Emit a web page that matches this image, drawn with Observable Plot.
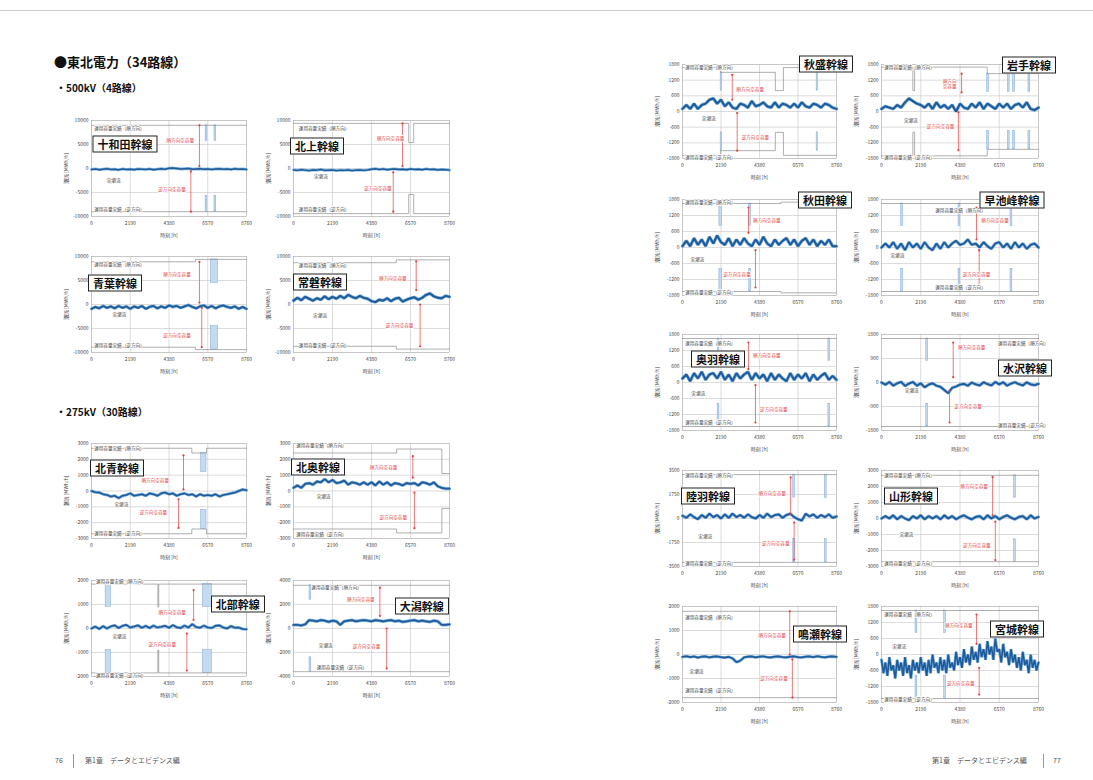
<!DOCTYPE html>
<html><head><meta charset="utf-8">
<script src="https://cdn.jsdelivr.net/npm/d3@7"></script>
<script src="https://cdn.jsdelivr.net/npm/@observablehq/plot@0.6"></script>
<style>
body{margin:0;background:#fff;font-family:"Noto Sans CJK JP","Noto Sans",sans-serif;}
#page{position:relative;width:1093px;height:780px;overflow:hidden;background:#fff;}
.abs{position:absolute;white-space:nowrap;line-height:1;}
.tbox{position:absolute;white-space:nowrap;border:1.2px solid #222;background:#fff;font-weight:700;font-size:11px;line-height:1;padding:2px 4px;color:#111;transform:translate(-50%,-50%);}
.chart{position:absolute;}
.chart svg{overflow:visible;}
</style></head>
<body><div id="page"></div>
<script>
// ---------- data ----------
const hours = [0,219,438,657,876,1095,1314,1533,1752,1971,2190,2409,2628,2847,3066,3285,3504,3723,3942,4161,4380,4599,4818,5037,5256,5475,5694,5913,6132,6351,6570,6789,7008,7227,7446,7665,7884,8103,8322,8541,8760];
const hoursFine = [0,110,219,329,438,548,657,767,876,986,1095,1205,1314,1424,1533,1643,1752,1862,1971,2081,2190,2300,2409,2519,2628,2738,2847,2957,3066,3176,3285,3395,3504,3614,3723,3833,3942,4052,4161,4271,4380,4490,4599,4709,4818,4928,5037,5147,5256,5366,5475,5585,5694,5804,5913,6023,6132,6242,6351,6461,6570,6680,6789,6899,7008,7118,7227,7337,7446,7556,7665,7775,7884,7994,8103,8213,8322,8432,8541,8651,8760];
const xTicks = [0,2190,4380,6570,8760];
const lineNames = ["十和田幹線","北上幹線","青葉幹線","常磐幹線","北青幹線","北奥幹線","北部幹線","大潟幹線","秋盛幹線","岩手幹線","秋田幹線","早池峰幹線","奥羽幹線","水沢幹線","陸羽幹線","山形幹線","鳴瀬幹線","宮城幹線"];
const yTicks = [
  [10000,5000,0,-5000,-10000],[10000,5000,0,-5000,-10000],[10000,5000,0,-5000,-10000],[10000,5000,0,-5000,-10000],
  [3000,2000,1000,0,-1000,-2000,-3000],[3000,2000,1000,0,-1000,-2000,-3000],
  [2000,1000,0,-1000,-2000],[4000,2000,0,-2000,-4000],
  [1800,1200,600,0,-600,-1200,-1800],[1800,1200,600,0,-600,-1200,-1800],
  [1800,1200,600,0,-600,-1200,-1800],[1800,1200,600,0,-600,-1200,-1800],
  [1800,1200,600,0,-600,-1200,-1800],[1800,900,0,-900,-1800],
  [3500,1750,0,-1750,-3500],[3000,2000,1000,0,-1000,-2000,-3000],
  [2000,1000,0,-1000,-2000],[1800,1200,600,0,-600,-1200,-1800]
];
const flowTowada = [-200,-100,-250,-150,-50,-200,-150,-300,-100,-200,-150,-250,-100,-150,-200,-100,-250,-150,-50,-150,50,100,0,-100,-50,0,-150,-100,-50,-150,-100,-200,-100,-50,-150,-100,-200,-50,-150,-100,-200];
const flowKitakami = [-300,-400,-250,-350,-450,-300,-350,-200,-400,-350,-300,-450,-350,-400,-300,-450,-350,-300,-400,-300,-150,-50,-200,-100,-250,-150,-100,-200,-150,-250,-100,-200,-150,-250,-100,-200,-150,-300,-200,-250,-350];
const flowAoba = [-900,-500,-800,-300,-700,-400,-800,-300,-700,-400,-900,-400,-700,-300,-900,-500,-300,-800,-400,-700,-200,-500,-300,-700,-400,-100,-500,-800,-400,-200,-700,-300,-800,-400,-200,-500,-700,-400,-900,-500,-900];
const flowJoban = [800,1400,900,1600,1200,800,1300,1000,1700,1100,1600,1200,1800,1300,2000,1600,1300,1800,1400,1200,700,500,1000,800,1300,700,1200,1400,600,1000,1300,1500,1000,1400,2000,2300,1700,1400,1300,1800,1600];
const flowHokusei = [0,-80,-100,-200,-250,-350,-300,-450,-300,-250,-150,-300,-250,-200,-300,-150,-200,-300,-150,-100,-200,-150,-300,-200,-150,-250,-200,-350,-200,-300,-250,-300,-200,-350,-250,-200,-150,-100,0,100,50];
const flowHokuo = [200,350,200,450,500,400,600,550,750,550,700,500,550,650,400,550,500,400,550,400,550,350,600,400,550,350,500,450,350,500,450,500,350,550,500,400,550,300,200,150,150];
const flowHokubu = [0,80,-20,100,0,90,130,20,110,150,40,80,130,30,110,20,120,40,70,110,30,140,50,20,120,40,180,60,30,120,40,20,110,130,40,0,100,30,40,-20,-30];
const flowOgata = [300,300,250,350,700,650,600,700,650,550,650,600,300,600,650,700,600,650,700,650,600,700,650,600,650,700,600,650,550,600,650,700,600,650,600,550,650,600,300,300,350];
const flowAkimori = [100,250,100,300,100,250,300,450,500,300,450,200,350,150,100,300,250,150,400,200,250,350,200,150,350,150,300,250,150,300,150,350,200,150,300,250,150,300,250,150,100];
const flowIwate = [100,200,150,100,250,150,350,500,400,300,250,150,300,100,350,150,250,100,250,0,300,150,100,300,150,350,100,300,200,100,300,150,300,100,250,300,150,350,100,50,150];
const flowAkita = [50,250,50,350,100,300,50,400,150,450,200,100,350,50,300,100,350,150,50,300,100,400,150,50,300,100,250,350,100,300,50,250,350,100,300,50,250,100,300,50,50];
const flowHayachine = [0,150,0,200,-50,150,-100,200,0,150,-50,200,0,-100,150,-50,200,0,150,250,100,150,300,100,150,0,200,50,-50,150,200,0,150,-50,200,0,150,-50,100,150,0];
const flowOu = [150,300,50,350,150,400,100,300,350,150,400,100,300,50,350,150,300,400,100,350,150,300,50,350,100,300,150,50,350,100,300,150,350,50,300,100,250,350,100,250,100];
const flowMizusawa = [0,-80,20,-120,-30,20,-130,-40,20,-120,-30,-180,-80,-30,-120,-160,-280,-400,-200,-150,-80,-50,-120,0,-70,-110,10,-60,-110,20,-70,10,-120,-40,10,-60,-110,10,-70,-100,-50];
const flowRikuu = [200,50,300,100,-50,250,50,350,100,250,0,300,50,350,100,250,50,300,100,0,250,50,350,100,250,300,50,250,350,100,-50,-150,350,150,300,50,250,100,300,50,150];
const flowYamagata = [0,150,0,200,-50,150,0,-100,150,0,200,-50,150,0,150,-50,200,0,150,-50,100,200,50,-50,100,150,-50,200,0,150,-50,100,200,50,-50,100,150,-50,200,0,100];
const flowNaruse = [-100,-70,-110,-80,-130,-90,-80,-120,-90,-80,-110,-130,-100,-160,-320,-260,-120,-90,-80,-120,-90,-80,-110,-120,-90,-80,-110,-120,-90,-80,-110,-120,-90,-80,-110,-70,-100,-120,-90,-80,-100];
const flowMiyagi = [-200,-700,-300,-800,-100,-600,-400,-900,-200,-600,-300,-800,-100,-700,-400,-900,-200,-600,-300,-700,-100,-600,-300,-800,-200,-700,0,-500,-300,-700,-100,-600,-200,-700,0,-500,-300,-600,100,-400,-100,-500,200,-300,0,-400,300,-200,100,-300,400,-100,200,-200,500,0,300,-200,600,100,200,-300,400,-100,100,-400,200,-300,0,-500,-100,-600,100,-400,-200,-700,0,-500,-200,-600,-300];
const flows = [flowTowada,flowKitakami,flowAoba,flowJoban,flowHokusei,flowHokuo,flowHokubu,flowOgata,flowAkimori,flowIwate,flowAkita,flowHayachine,flowOu,flowMizusawa,flowRikuu,flowYamagata,flowNaruse,flowMiyagi];
const capFwd = [
  [[0,9000],[8760,9000]],
  [[0,9400],[6470,5400],[6750,9400],[8760,9400]],
  [[0,8900],[5875,9400],[8760,9400]],
  [[0,8700],[5770,9300],[8760,9300]],
  [[0,2700],[5670,2400],[6500,2700],[8760,2700]],
  [[0,2400],[5790,2650],[8330,1100],[8760,1100]],
  [[0,1850],[3750,900],[3800,1850],[8760,1850]],
  [[0,3600],[8760,3600]],
  [[0,1680],[2170,1500],[5280,800],[5740,1680],[8760,1680]],
  [[0,1700],[1750,800],[1850,1700],[5900,1450],[8760,1450]],
  [[0,1650],[5600,1700],[8760,1700]],
  [[0,1650],[8760,1650]],
  [[0,1650],[8760,1650]],
  [[0,1650],[8760,1650]],
  [[0,3200],[8760,3200]],
  [[0,2700],[8760,2700]],
  [[0,1800],[8760,1800]],
  [[0,1650],[8760,1650]]
];
const outages = [
  [[6450,6550,9000,5700],[6950,7050,9000,5700]],
  [],
  [[6750,7150,9400,4500]],
  [],
  [[6200,6500,2400,1200]],
  [],
  [[800,1100,1850,900],[6300,6800,1850,900]],
  [[900,1000,3600,2400]],
  [[2170,2250,1500,800],[7630,7700,1500,800]],
  [[5900,6000,1450,750],[7050,7150,1450,750],[7350,7450,1450,750],[8200,8300,1450,750]],
  [[2100,2250,1650,800],[3800,3900,1650,800]],
  [[1100,1200,1650,800],[4300,4400,1650,800],[7200,7300,1650,800]],
  [[2000,2100,1650,800],[8300,8400,1650,800]],
  [[2500,2600,1650,800]],
  [[6300,6400,3200,1500],[8100,8200,3200,1500]],
  [[7400,7500,2700,1300]],
  [],
  [[1900,2000,1650,800],[3500,3600,1650,800]]
];
const arrowFwd = [[6100,9000,500],[6120,9400,500],[6100,8900,400],[6890,9000,3000],[5200,2250,100],[6700,2200,840],[5770,1600,360],[4850,3400,1050],[2830,1400,450],[4470,1450,730],[3750,1500,550],[5300,1500,300],[3750,1500,500],[4000,1500,200],[6150,3000,300],[6200,2600,200],[6100,1800,0],[5300,1500,400]];
const arrowRev = [[5615,-600,-9000],[5600,-800,-9000],[6230,-700,-8900],[7110,0,-8700],[4920,-520,-2330],[6790,-100,-2350],[5390,-210,-1750],[5230,0,-3330],[3110,-60,-1500],[4290,-30,-1480],[4150,-100,-1500],[5450,-100,-1500],[4150,-100,-1500],[3800,-300,-1500],[6350,-300,-3000],[6350,-200,-2600],[6250,-200,-1800],[5450,-500,-1500]];
const labelFwd = [[5015,5800,"middle"],[5450,6270,"middle"],[4830,6220,"middle"],[5580,5370,"middle"],[3600,670,"middle"],[5060,1490,"middle"],[4560,670,"middle"],[3780,2400,"middle"],[2950,830,"start"],[4300,1050,"end"],[3900,1000,"start"],[5450,1000,"start"],[3900,1000,"start"],[4150,1300,"start"],[6000,1800,"end"],[6050,2000,"end"],[6000,800,"end"],[5200,1100,"end"]];
const labelRev = [[4550,-4400,"middle"],[4740,-4180,"middle"],[4830,-6360,"middle"],[5960,-4380,"middle"],[3500,-1380,"middle"],[5600,-1650,"middle"],[4000,-660,"middle"],[4100,-1470,"middle"],[3250,-990,"start"],[3300,-560,"middle"],[4000,-1000,"end"],[5300,-1000,"middle"],[4300,-1000,"start"],[3950,-900,"start"],[6200,-1800,"end"],[6200,-1700,"end"],[6100,-1000,"end"],[5300,-1100,"end"]];
const fwdText = ["順方向空容量","順方向空容量","順方向空容量","順方向空容量","順方向空容量","順方向空容量","順方向空容量","順方向空容量","順方向空容量","順方向\n空容量","順方向空容量","順方向空容量","順方向空容量","順方向空容量","順方向空容量","順方向空容量","順方向空容量","順方向空容量"];
const labelFlow = [[860,-2430],[1150,-1670],[1180,-2050],[1100,-2260],[1300,-840],[1300,-360],[1180,-350],[1420,-1410],[1100,-250],[1250,-340],[450,-450],[500,-300],[500,-400],[1300,-300],[900,-1300],[1000,-1000],[400,-700],[600,300]];
const labelCapFwd = [[150,8300],[300,8300],[150,8300],[300,8200],[150,2700],[150,2850],[250,1950],[1000,3400],[150,1700],[150,1700],[150,1700],[3000,1400],[150,1450],[6500,1450],[150,3100],[150,2700],[150,1550],[150,1500]];
const labelCapRev = [[150,-8600],[300,-8600],[150,-8500],[300,-8600],[150,-2700],[150,-2750],[250,-1950],[1300,-3250],[150,-1750],[150,-1750],[150,-1700],[3000,-1500],[150,-1500],[6500,-1600],[150,-3300],[150,-2800],[150,-1500],[150,-1700]];
const titlePos = [[1920,5000],[1350,4600],[1360,4300],[1520,4500],[1470,1420],[1400,1500],[8300,1000],[7230,1850],[8190,1790],[8260,1760],[8130,1760],[7310,1780],[2050,880],[8030,540],[1480,1640],[1670,1400],[7850,850],[7590,940]];

// ---------- layout (page px: plot left, right, top, bottom) ----------
const boxes = [
  [91,246,120,216],[293,449,120,216],[91,246,256,352],[293,449,256,352],
  [91,246,443,538],[293,449,443,538],[91,246,580,676],[293,449,580,676],
  [682,836,64,158],[881,1038,64,158],[682,836,199,295],[881,1038,199,295],
  [682,836,334,430],[881,1038,334,430],[682,836,470,566],[881,1038,470,566],
  [682,836,606,702],[881,1038,606,702]
];
const lineW = [1.4,1.4,1.8,2,1.6,1.8,1.6,1.8,2,2,2,1.8,2,1.8,1.8,1.8,1.6,1.6];

const page = document.getElementById("page");
function addText(txt, x, y, css){
  const d = document.createElement("div"); d.className="abs"; d.textContent=txt;
  d.style.left=x+"px"; d.style.top=y+"px"; Object.assign(d.style, css||{}); page.appendChild(d); return d;
}
const rule = document.createElement("div");
Object.assign(rule.style,{position:"absolute",left:"0px",top:"10px",width:"1093px",height:"1px",background:"#cfcfcf"});
page.appendChild(rule);
addText("●東北電力（34路線）",54,55,{fontSize:"13px",fontWeight:"700",color:"#111"});
addText("・500kV（4路線）",56,83,{fontSize:"10px",fontWeight:"700",color:"#111"});
addText("・275kV（30路線）",56,407,{fontSize:"10px",fontWeight:"700",color:"#111"});
addText("76",55,757,{fontSize:"7px",color:"#555"});
const bar1=document.createElement("div");Object.assign(bar1.style,{position:"absolute",left:"73px",top:"754px",width:"1px",height:"14px",background:"#999"});page.appendChild(bar1);
addText("第1章　データとエビデンス編",85,757,{fontSize:"7px",color:"#555"});
addText("第1章　データとエビデンス編",932,757,{fontSize:"7px",color:"#555"});
const bar2=document.createElement("div");Object.assign(bar2.style,{position:"absolute",left:"1043px",top:"754px",width:"1px",height:"14px",background:"#999"});page.appendChild(bar2);
addText("77",1053,757,{fontSize:"7px",color:"#555"});

const red = "#e2403f";
const mL=34, mR=2, mT=3, mB=24;
lineNames.forEach((name,i)=>{
  const [L,R,T,B] = boxes[i];
  const ticks = yTicks[i];
  const ymax = d3.max(ticks), ymin = d3.min(ticks);
  const hx = flows[i].length === hoursFine.length ? hoursFine : hours;
  const flow = hx.map((h,k)=>({h, v: flows[i][k]}));
  const capF = capFwd[i].map(([h,v])=>({h,v}));
  const capR = capFwd[i].map(([h,v])=>({h,v:-v}));
  const outs = outages[i].map(([h1,h2,a,b])=>({h1,h2,a,b}));
  const af = arrowFwd[i], ar = arrowRev[i];
  const ends = [{h:af[0],v:af[1]},{h:af[0],v:af[2]},{h:ar[0],v:ar[1]},{h:ar[0],v:ar[2]}];
  const lf = labelFwd[i], lr = labelRev[i];
  const fs = 4.6;
  const p = Plot.plot({
    width:(R-L)+mL+mR, height:(B-T)+mT+mB,
    marginLeft:mL, marginRight:mR, marginTop:mT, marginBottom:mB,
    style:{fontFamily:'"Noto Sans CJK JP","Noto Sans",sans-serif',fontSize:"5px",color:"#444",background:"transparent",overflow:"visible"},
    x:{domain:[0,8760],ticks:xTicks,tickFormat:d=>String(d),tickSize:0,tickPadding:5,label:"時刻 [h]",labelAnchor:"center",labelOffset:20,labelArrow:false},
    y:{domain:[ymin,ymax],ticks:ticks,tickFormat:d=>String(d),tickSize:0,tickPadding:3,label:"潮流 [MWh/h]",labelAnchor:"center",labelOffset:27,labelArrow:false},
    marks:[
      Plot.ruleX(xTicks,{stroke:"#c4c4c4",strokeWidth:0.6}),
      Plot.ruleY(ticks,{stroke:"#c4c4c4",strokeWidth:0.6}),
      Plot.frame({stroke:"#b8b8b8",strokeWidth:0.6}),
      Plot.rect(outs,{x1:"h1",x2:"h2",y1:"a",y2:"b",fill:"#c3daf1",stroke:"#7ea7d4",strokeWidth:0.5}),
      Plot.rect(outs,{x1:"h1",x2:"h2",y1:d=>-d.a,y2:d=>-d.b,fill:"#c3daf1",stroke:"#7ea7d4",strokeWidth:0.5}),
      Plot.line(capF,{x:"h",y:"v",curve:"step-after",stroke:"#8c8c8c",strokeWidth:0.7}),
      Plot.line(capR,{x:"h",y:"v",curve:"step-after",stroke:"#8c8c8c",strokeWidth:0.7}),
      Plot.line(flow,{x:"h",y:"v",stroke:"#7fb2e0",strokeWidth:lineW[i]+1.4,strokeLinejoin:"miter"}),
      Plot.line(flow,{x:"h",y:"v",stroke:"#1f5a99",strokeWidth:lineW[i],strokeLinejoin:"miter"}),
      Plot.ruleX([af],{x:d=>d[0],y1:d=>d[1],y2:d=>d[2],stroke:red,strokeWidth:0.7}),
      Plot.ruleX([ar],{x:d=>d[0],y1:d=>d[1],y2:d=>d[2],stroke:red,strokeWidth:0.7}),
      Plot.dot(ends,{x:"h",y:"v",r:1.1,fill:red,stroke:null}),
      Plot.text([lf],{x:d=>d[0],y:d=>d[1],text:()=>fwdText[i],textAnchor:lf[2],dx:lf[2]==="start"?2:lf[2]==="end"?-2:0,fill:red,fontSize:fs,stroke:"white",strokeWidth:1.5}),
      Plot.text([lr],{x:d=>d[0],y:d=>d[1],text:()=>"逆方向空容量",textAnchor:lr[2],dx:lr[2]==="start"?2:lr[2]==="end"?-2:0,fill:red,fontSize:fs,stroke:"white",strokeWidth:1.5}),
      Plot.text([labelFlow[i]],{x:d=>d[0],y:d=>d[1],text:()=>"実潮流",textAnchor:"start",fill:"#444",fontSize:fs,stroke:"white",strokeWidth:1.5}),
      Plot.text([labelCapFwd[i]],{x:d=>d[0],y:d=>d[1],text:()=>"運用容量実績（順方向）",textAnchor:"start",fill:"#444",fontSize:fs,stroke:"white",strokeWidth:1.5}),
      Plot.text([labelCapRev[i]],{x:d=>d[0],y:d=>d[1],text:()=>"運用容量実績（逆方向）",textAnchor:"start",fill:"#444",fontSize:fs,stroke:"white",strokeWidth:1.5})
    ]
  });
  const wrap = document.createElement("div"); wrap.className="chart";
  const left = L-mL, top = T-mT;
  wrap.style.left = left+"px"; wrap.style.top = top+"px";
  wrap.appendChild(p); page.appendChild(wrap);
  const sx = p.scale("x"), sy = p.scale("y");
  const tb = document.createElement("div"); tb.className="tbox"; tb.textContent=name;
  tb.style.left = (left+sx.apply(titlePos[i][0]))+"px";
  tb.style.top = (top+sy.apply(titlePos[i][1]))+"px";
  page.appendChild(tb);
});
</script></body></html>
